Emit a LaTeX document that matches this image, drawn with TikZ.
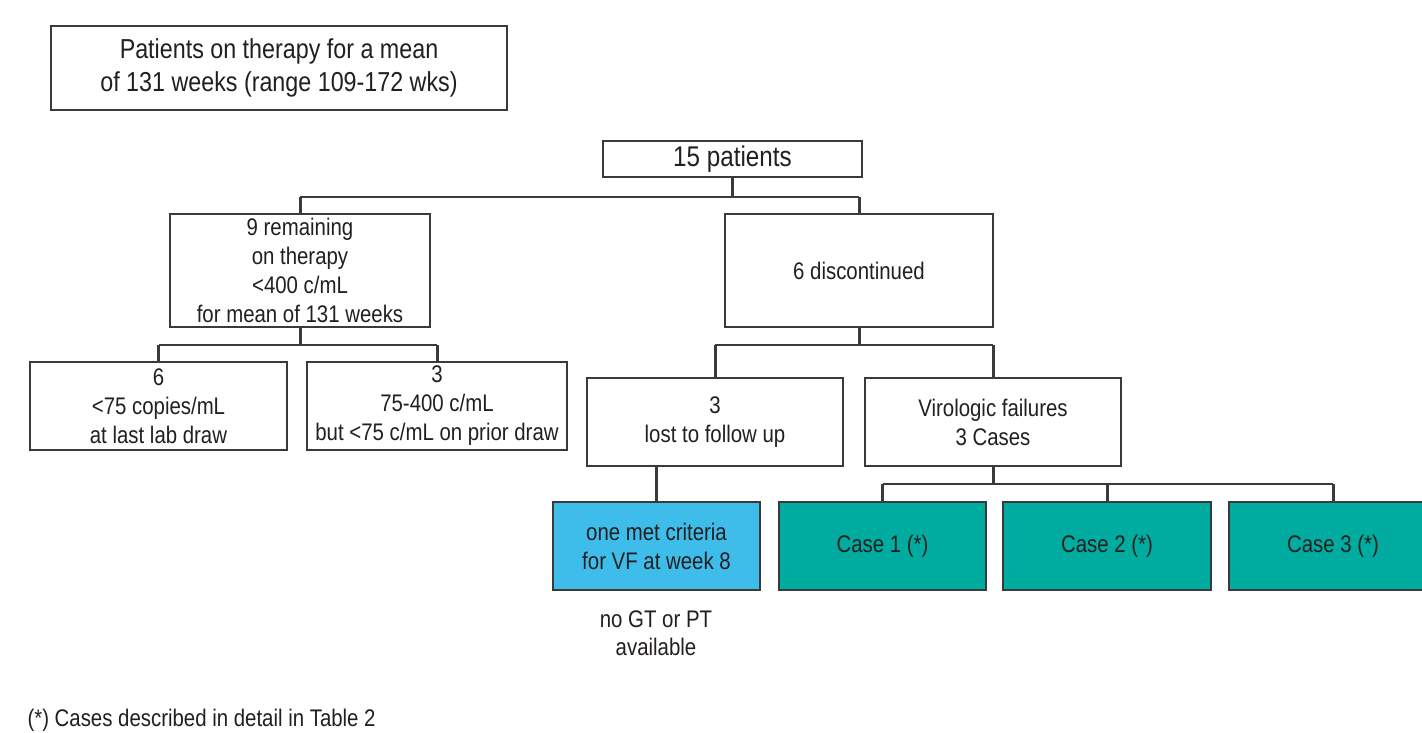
\documentclass[tikz,border=0pt]{standalone}
\usepackage{fontspec}
\setmainfont{Liberation Sans}[FakeStretch=0.85]
\definecolor{txt}{HTML}{231F20}
\definecolor{edge}{HTML}{3A3A3A}
\definecolor{vfblue}{HTML}{3FBDEA}
\definecolor{teal}{HTML}{00AC9F}
\tikzset{
  box/.style={draw=edge, line width=1.3pt, fill=white, text=txt, align=center,
    inner sep=0pt, font=\fontsize{24}{29}\selectfont},
  hl/.style={draw=edge, line width=1.4pt},
  vl/.style={draw=edge, line width=3pt},
}
\begin{document}
\begin{tikzpicture}[x=1pt,y=-1pt]
\useasboundingbox (0,0) rectangle (1422,732);
\clip (0,0) rectangle (1422,732);
\fill[white] (0,0) rectangle (1422,732);
% nodes
\node[box, minimum width=456pt, minimum height=84pt, font=\fontsize{27.4}{33}\selectfont] (top) at (279,68)
  {Patients on therapy for a mean\\of 131 weeks (range 109-172 wks)};
\node[box, minimum width=259pt, minimum height=36pt, font=\fontsize{28.5}{30}\selectfont] (p15) at (732.5,159) {15 patients};
\node[box, minimum width=260pt, minimum height=113pt] (rem) at (300,270.5)
  {9 remaining\\on therapy\\<400 c/mL\\for mean of 131 weeks};
\node[box, minimum width=268pt, minimum height=113pt] (disc) at (859,270.5) {6 discontinued};
\node[box, minimum width=257pt, minimum height=88pt] (b6) at (158.5,406)
  {6\\<75 copies/mL\\at last lab draw};
\node[box, minimum width=260pt, minimum height=88pt] (b3) at (437,406)
  {3\\75-400 c/mL\\but <75 c/mL on prior draw};
\node[box, minimum width=256pt, minimum height=88pt] (lost) at (715,422)
  {3\\lost to follow up};
\node[box, minimum width=256pt, minimum height=88pt] (vf) at (993,422)
  {Virologic failures\\3 Cases};
\node[box, fill=vfblue, minimum width=207pt, minimum height=88pt] (blue) at (656.5,546)
  {one met criteria\\for VF at week 8};
\node[box, fill=teal, minimum width=207pt, minimum height=88pt] (c1) at (882.5,546) {Case 1 (*)};
\node[box, fill=teal, minimum width=208pt, minimum height=88pt] (c2) at (1107,546) {Case 2 (*)};
\node[box, fill=teal, minimum width=208pt, minimum height=88pt] (c3) at (1333,546) {Case 3 (*)};
\node[text=txt, align=center, font=\fontsize{24}{28}\selectfont] (nogt) at (656,633) {no GT or PT\\available};
\node[text=txt, anchor=base west, font=\fontsize{24}{28}\selectfont] (foot) at (24,726) {(*) Cases described in detail in Table 2};
% junction levels
\coordinate (j1) at (0,197);
\coordinate (j2) at (0,345);
\coordinate (j3) at (0,345);
\coordinate (j4) at (0,484);
% level 1
\draw[hl] (rem.north |- j1) -- (disc.north |- j1);
\draw[vl] (p15.south) -- (p15.south |- j1);
\draw[vl] (rem.north |- j1) -- (rem.north);
\draw[vl] (disc.north |- j1) -- (disc.north);
% level 2 left
\draw[hl] (b6.north |- j2) -- (b3.north |- j2);
\draw[vl] (rem.south) -- (rem.south |- j2);
\draw[vl] (b6.north |- j2) -- (b6.north);
\draw[vl] (b3.north |- j2) -- (b3.north);
% level 2 right
\draw[hl] (lost.north |- j3) -- (vf.north |- j3);
\draw[vl] (disc.south) -- (disc.south |- j3);
\draw[vl] (lost.north |- j3) -- (lost.north);
\draw[vl] (vf.north |- j3) -- (vf.north);
% lost -> blue
\draw[vl] (blue.north |- lost.south) -- (blue.north);
% cases
\draw[hl] (c1.north |- j4) -- (c3.north |- j4);
\draw[vl] (vf.south) -- (vf.south |- j4);
\draw[vl] (c1.north |- j4) -- (c1.north);
\draw[vl] (c2.north |- j4) -- (c2.north);
\draw[vl] (c3.north |- j4) -- (c3.north);
\end{tikzpicture}
\end{document}
